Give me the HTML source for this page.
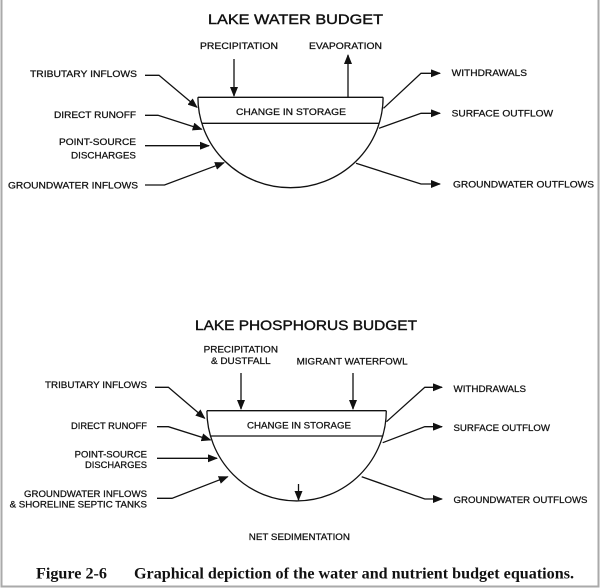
<!DOCTYPE html>
<html><head><meta charset="utf-8"><style>
html,body{margin:0;padding:0;background:#fff}
svg{display:block}
text{font-family:"Liberation Sans",Arial,sans-serif;fill:#111}
.l{font-size:9.5px;stroke:#111;stroke-width:0.25}
.t{font-size:14px;stroke:#111;stroke-width:0.4}
.c{font-family:"Liberation Serif","Times New Roman",serif;font-weight:bold;font-size:16px}
</style></head><body>
<svg width="600" height="588" viewBox="0 0 600 588" xmlns="http://www.w3.org/2000/svg">
<defs>
<marker id="a" markerWidth="10" markerHeight="8" refX="9" refY="4" orient="auto" markerUnits="userSpaceOnUse">
<path d="M0,0 L10,4 L0,8 Z" fill="#111"/>
</marker>
</defs>
<rect x="0" y="0" width="600" height="588" fill="#fff"/>
<path d="M1.5,0 V586.5 H598.5 V0" fill="none" stroke="#aaa" stroke-width="2"/>

<g stroke="#111" stroke-width="1.3" fill="none">
<path d="M197.9,97.3 L383.1,97.3"/>
<path d="M197.9,97.3 A92.6,90.4 0 0 0 383.1,97.3"/>
<path d="M202,123.3 L379,123.3"/>
<path d="M234,59 V96" marker-end="url(#a)"/>
<path d="M348,97 V55" marker-end="url(#a)"/>
<path d="M145,75.3 H159 L197,107.3" marker-end="url(#a)"/>
<path d="M145,115.3 H158 L201.7,129.3" marker-end="url(#a)"/>
<path d="M145,145.7 H209" marker-end="url(#a)"/>
<path d="M145,185 H164.5 L224,162.7" marker-end="url(#a)"/>
<path d="M383.5,108.3 L421,73.3 H440" marker-end="url(#a)"/>
<path d="M379,128.3 L421,113.3 H440" marker-end="url(#a)"/>
<path d="M356,163.3 L421,184 H440" marker-end="url(#a)"/>
<path d="M206.9,410.7 L386.3,410.7"/>
<path d="M206.9,410.7 A89.7,90.3 0 0 0 386.3,410.7"/>
<path d="M210.5,436 L382.7,436"/>
<path d="M241,373 V409" marker-end="url(#a)"/>
<path d="M353,373 V409" marker-end="url(#a)"/>
<path d="M298.5,484 V500" marker-end="url(#a)"/>
<path d="M155,387.3 H168.4 L204.7,418.3" marker-end="url(#a)"/>
<path d="M157,426.7 H168.4 L210.5,440" marker-end="url(#a)"/>
<path d="M157,458.3 H217" marker-end="url(#a)"/>
<path d="M157,498.3 H172 L227.7,476.7" marker-end="url(#a)"/>
<path d="M386.5,421.7 L424.8,387.3 H442" marker-end="url(#a)"/>
<path d="M382.7,442.7 L424.8,426.7 H442" marker-end="url(#a)"/>
<path d="M361.7,476.7 L424.8,499 H442" marker-end="url(#a)"/>
</g>

<text class="t" x="208" y="24" textLength="175" lengthAdjust="spacingAndGlyphs">LAKE WATER BUDGET</text>
<text class="l" x="200" y="49" textLength="78" lengthAdjust="spacingAndGlyphs">PRECIPITATION</text>
<text class="l" x="309" y="49" textLength="73" lengthAdjust="spacingAndGlyphs">EVAPORATION</text>
<text class="l" x="236" y="115" textLength="110" lengthAdjust="spacingAndGlyphs">CHANGE IN STORAGE</text>
<text class="l" x="30" y="77" textLength="107" lengthAdjust="spacingAndGlyphs">TRIBUTARY INFLOWS</text>
<text class="l" x="54" y="118" textLength="82" lengthAdjust="spacingAndGlyphs">DIRECT RUNOFF</text>
<text class="l" x="59" y="145" textLength="77" lengthAdjust="spacingAndGlyphs">POINT-SOURCE</text>
<text class="l" x="71" y="158.5" textLength="65" lengthAdjust="spacingAndGlyphs">DISCHARGES</text>
<text class="l" x="8" y="188.5" textLength="130" lengthAdjust="spacingAndGlyphs">GROUNDWATER INFLOWS</text>
<text class="l" x="451.6" y="76" textLength="75.5" lengthAdjust="spacingAndGlyphs">WITHDRAWALS</text>
<text class="l" x="451.6" y="116.5" textLength="101.5" lengthAdjust="spacingAndGlyphs">SURFACE OUTFLOW</text>
<text class="l" x="453" y="187.5" textLength="141" lengthAdjust="spacingAndGlyphs">GROUNDWATER OUTFLOWS</text>

<text class="t" x="195" y="330" textLength="222" lengthAdjust="spacingAndGlyphs">LAKE PHOSPHORUS BUDGET</text>
<text class="l" x="203.6" y="352.7" textLength="74.4" lengthAdjust="spacingAndGlyphs">PRECIPITATION</text>
<text class="l" x="211" y="364" textLength="59.6" lengthAdjust="spacingAndGlyphs">&amp; DUSTFALL</text>
<text class="l" x="296.6" y="364.5" textLength="111" lengthAdjust="spacingAndGlyphs">MIGRANT WATERFOWL</text>
<text class="l" x="247" y="428.5" textLength="104" lengthAdjust="spacingAndGlyphs">CHANGE IN STORAGE</text>
<text class="l" x="45" y="388" textLength="102" lengthAdjust="spacingAndGlyphs">TRIBUTARY INFLOWS</text>
<text class="l" x="71" y="429.2" textLength="76" lengthAdjust="spacingAndGlyphs">DIRECT RUNOFF</text>
<text class="l" x="74.6" y="457.5" textLength="72.4" lengthAdjust="spacingAndGlyphs">POINT-SOURCE</text>
<text class="l" x="85" y="468.2" textLength="62" lengthAdjust="spacingAndGlyphs">DISCHARGES</text>
<text class="l" x="24" y="496.8" textLength="123" lengthAdjust="spacingAndGlyphs">GROUNDWATER INFLOWS</text>
<text class="l" x="9.6" y="507.5" textLength="137.4" lengthAdjust="spacingAndGlyphs">&amp; SHORELINE SEPTIC TANKS</text>
<text class="l" x="453.5" y="391.8" textLength="72.5" lengthAdjust="spacingAndGlyphs">WITHDRAWALS</text>
<text class="l" x="453.5" y="431.2" textLength="96.5" lengthAdjust="spacingAndGlyphs">SURFACE OUTFLOW</text>
<text class="l" x="453.5" y="502.8" textLength="134" lengthAdjust="spacingAndGlyphs">GROUNDWATER OUTFLOWS</text>
<text class="l" x="248.8" y="540.2" textLength="101.2" lengthAdjust="spacingAndGlyphs">NET SEDIMENTATION</text>

<text class="c" x="36" y="578.5" textLength="71" lengthAdjust="spacingAndGlyphs">Figure 2-6</text>
<text class="c" x="134" y="578.5" textLength="440" lengthAdjust="spacingAndGlyphs">Graphical depiction of the water and nutrient budget equations.</text>
</svg>
</body></html>
